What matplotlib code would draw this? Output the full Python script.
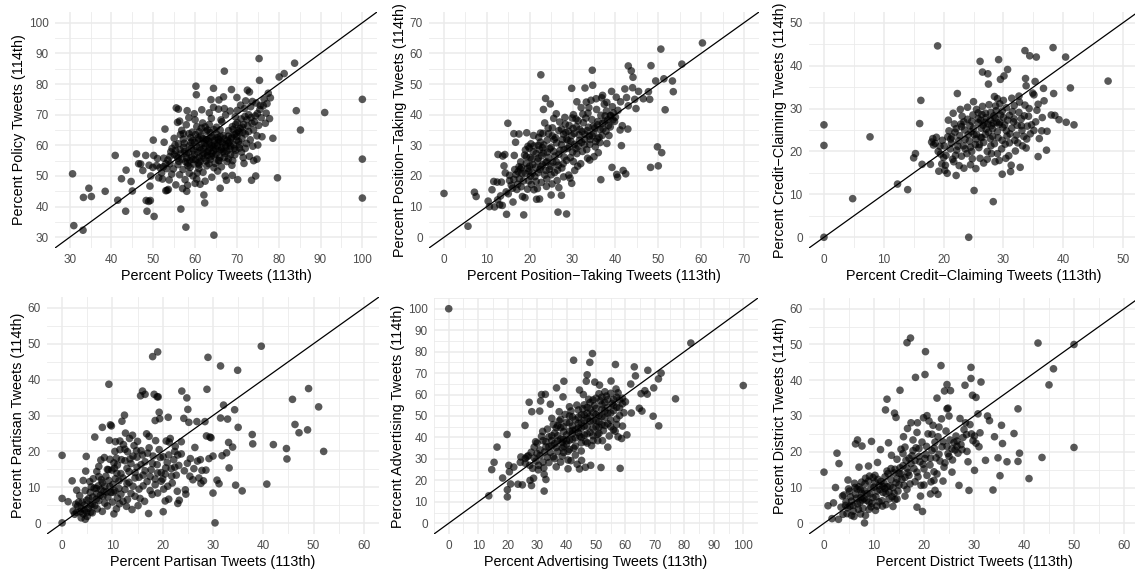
import numpy as np
import matplotlib
matplotlib.use("Agg")
import matplotlib.pyplot as plt
from matplotlib.ticker import MultipleLocator

plt.rcParams["font.family"] = ["Liberation Sans", "DejaVu Sans"]

# (113th, 114th) percentages per member, one list per tweet type
policy = [
    (30.7, 50.7), (31, 33.8), (33.2, 32.3), (33.3, 43), (34.6, 46), (35.2, 43.3), (38.5, 45),
    (40.9, 56.7), (41.5, 42.1), (42.4, 49.1), (43.4, 38.5), (43.5, 51.9), (44.7, 48.2), (45, 45.1),
    (46, 57.2), (46.5, 54), (47, 53.9), (47.5, 51.8), (48.2, 56.7), (48.3, 42), (48.5, 38.5),
    (48.9, 41.7), (49.2, 46.7), (49.3, 42), (49.4, 50), (50, 61.7), (50.2, 36.8), (50.1, 56.7),
    (51, 55.7), (51.3, 49.4), (52, 51), (52.4, 53), (52.5, 55.8), (52.6, 61), (52.8, 65.3),
    (53, 45.2), (53.3, 45.3), (53.6, 45.6), (53.8, 48.7), (54, 54), (54.5, 59), (55, 57),
    (55.5, 72.2), (55.8, 67.5), (56, 71.8), (56.3, 67.9), (56.6, 39.2), (56.5, 63.5), (57.2, 63.8),
    (57.5, 58), (57.8, 33.3), (58, 45), (58.2, 47), (58.5, 69), (59, 61), (59.5, 50), (60, 68.3),
    (60.2, 79.3), (60.3, 76.5), (60.4, 49), (60.5, 51), (61, 53.6), (61.2, 47.3), (61.6, 71.6),
    (62.1, 43.8), (62.3, 41.2), (62.5, 62), (63, 65), (63.4, 66.8), (63.8, 74.9), (64, 60),
    (64.4, 78.6), (64.4, 72.4), (64.5, 30.7), (64.5, 52.7), (65.3, 62.5), (65.6, 55), (65.7, 74.8),
    (66, 46), (66.2, 68.3), (66.8, 75.8), (67, 84.2), (67, 72), (67.2, 50), (67.5, 48.6), (68, 55.6),
    (68.5, 57), (68.7, 78.2), (68.9, 50.2), (69.4, 63.5), (70, 75.6), (70.1, 71.4), (70.2, 48.8),
    (70.5, 64.3), (71.5, 56), (71.8, 72), (72, 59), (72.5, 78), (72.8, 70), (73, 77.4), (73.5, 48.6),
    (73.7, 74.3), (74, 55), (74.5, 50), (74.8, 55.5), (75, 60.1), (75.3, 88.3), (75.4, 81.2),
    (75.5, 71.7), (76, 62.8), (76.5, 75.1), (77, 70.5), (77.5, 77), (77.8, 68.7), (78, 75.5),
    (78.6, 62.3), (79.7, 49.4), (80.1, 82.3), (81.3, 83.4), (83.8, 86.8), (84.2, 71.3), (85.2, 65),
    (91, 70.7), (100, 75), (100, 55.5), (100, 42.8),
    (53.5, 55.2), (54.2, 57.9), (54.8, 52.3), (55.2, 60.1), (55.6, 56.4), (56.1, 54.8), (56.4, 58.6),
    (56.9, 55.5), (57.1, 52.1), (57.4, 60.7), (57.9, 57.3), (58.2, 54.2), (58.6, 59.8), (58.9, 62.5),
    (59.2, 56.1), (59.6, 58.4), (59.9, 60.9), (60.2, 55.3), (60.6, 57.7), (60.9, 61.8), (61.1, 59.2),
    (61.4, 63.1), (61.7, 56.6), (62.0, 58.9), (62.3, 60.7), (62.6, 54.9), (62.9, 57.8), (63.2, 61.4),
    (63.5, 59.1), (63.8, 56.3), (64.1, 62.7), (64.4, 58.2), (64.7, 60.4), (65.0, 57.1), (65.3, 59.8),
    (65.6, 61.9), (65.9, 56.0), (66.2, 58.6), (66.5, 60.9), (66.8, 63.2), (67.1, 57.4), (67.4, 59.5),
    (67.7, 61.6), (68.0, 64.8), (68.3, 58.8), (68.6, 62.3), (68.9, 66.1), (69.2, 60.2), (69.5, 56.9),
    (69.8, 63.9), (70.1, 67.4), (70.4, 61.3), (70.8, 65.5), (71.2, 62.2), (71.6, 66.8), (72.0, 63.7),
    (72.4, 68.4), (72.8, 64.5), (73.2, 61.8), (73.6, 67.2), (74.0, 65.0), (74.4, 69.6), (74.8, 63.1),
    (75.2, 66.5), (56.3, 50.4), (57.6, 48.8), (58.8, 52.8), (59.7, 53.9), (60.9, 52.4), (61.9, 51.2),
    (62.8, 53.3), (63.6, 55.4), (64.8, 54.1), (66.3, 53.0), (67.6, 54.7), (68.8, 53.5), (69.7, 58.4),
    (70.6, 59.1), (71.1, 57.8), (72.3, 60.6), (73.8, 59.7), (55.0, 62.3), (56.8, 64.9), (57.9, 66.7),
    (59.3, 64.3), (60.4, 66.1), (61.8, 67.3), (62.7, 64.6), (63.9, 68.8), (65.1, 65.9), (66.4, 67.7),
    (67.3, 69.9), (68.4, 71.2), (69.6, 69.3), (70.9, 73.1), (72.1, 74.5), (73.3, 72.6), (74.6, 73.8),
    (76.3, 72.9), (77.2, 73.6), (75.8, 69.0), (76.8, 67.2), (73.0, 56.4), (71.7, 54.1), (69.0, 55.0),
    (65.4, 51.6), (64.0, 49.6), (62.4, 48.3), (60.0, 47.6), (58.6, 50.9), (57.0, 45.9), (55.4, 47.1),
    (54.4, 50.6), (53.2, 52.4), (52.2, 49.0), (51.6, 52.7), (50.8, 53.4), (49.9, 52.8), (49.0, 53.5),
    (55.9, 53.7), (58.0, 55.9), (61.2, 54.7), (63.0, 56.7), (66.0, 62.9), (67.9, 60.7), (69.9, 61.6),
    (71.4, 64.2), (61.5, 65.6), (63.4, 70.6), (65.6, 71.8), (59.8, 70.3), (58.1, 71.3),
    (55.3, 58.3), (55.9, 55.9), (56.6, 57.2), (57.3, 59.4), (57.7, 54.6), (58.4, 57.6), (58.7, 55.1),
    (59.1, 59.0), (59.4, 61.6), (59.9, 57.0), (60.3, 59.6), (60.7, 62.4), (61.0, 56.1), (61.3, 58.4),
    (61.6, 60.6), (61.9, 62.2), (62.2, 57.3), (62.5, 59.7), (62.8, 61.9), (63.1, 58.0), (63.4, 60.3),
    (63.7, 62.5), (64.0, 57.4), (64.3, 59.4), (64.6, 61.6), (64.9, 58.8), (65.2, 63.6), (65.5, 60.9),
    (65.8, 58.3), (66.1, 61.3), (66.4, 59.2), (66.7, 57.9), (67.0, 62.1), (67.3, 60.1), (67.6, 58.1),
    (67.9, 63.0), (68.2, 61.0), (68.5, 59.8), (68.8, 62.7), (69.1, 65.2), (69.4, 59.0), (69.7, 66.8),
    (70.0, 62.9), (70.3, 64.8), (70.7, 60.2), (71.0, 68.6), (71.3, 65.9), (71.9, 69.4), (72.6, 66.3),
    (73.4, 69.1), (74.2, 67.7), (74.9, 70.4), (75.6, 73.0), (58.3, 53.3), (59.5, 55.4), (60.8, 54.2),
    (62.1, 55.8), (63.3, 54.0), (64.6, 56.5), (65.8, 55.0), (67.0, 56.1), (56.0, 60.5), (57.2, 62.0),
    (58.5, 63.8), (60.1, 63.5), (61.0, 64.4), (62.4, 66.0), (63.6, 64.2), (64.5, 65.1), (66.0, 65.0),
    (54.0, 56.4), (53.0, 54.0),
]

position = [
    (0, 14.3), (5.6, 3.6), (7.1, 14.7), (7.5, 13.3), (10.3, 11.8), (10.6, 10), (11.2, 15.5),
    (11.6, 18.2), (12.4, 18), (12.6, 27), (13, 10.6), (13.4, 18), (13.6, 10.4), (13.7, 26.5),
    (14, 23.3), (14.2, 27), (14.3, 21), (14.6, 7.5), (14.9, 37.2), (15, 14.2), (15.3, 20.2),
    (15.7, 17), (16.1, 11.5), (16.3, 33.8), (16.4, 26.7), (16.7, 31), (17.3, 21.4), (17.5, 33.7),
    (17.8, 22.3), (18.3, 13.3), (18.6, 7.3), (18.9, 12.9), (19.0, 28.5), (19.3, 34.1), (19.6, 29.7),
    (20.3, 30.5), (20.6, 21), (21, 15.5), (21.6, 12.4), (22, 30), (22.3, 12.5), (22.6, 53), (22.5, 34),
    (23, 29.2), (23.2, 41.7), (23.5, 37.3), (23.7, 45.3), (24, 19), (24.4, 33.8), (24.8, 43.5),
    (25, 13.8), (25.4, 24.5), (25.7, 31.9), (26.2, 40.3), (26.6, 8.2), (26.8, 16.2), (27, 37.6),
    (27.4, 13.7), (27.8, 24), (28.6, 7.6), (28.9, 31.6), (29.4, 19.3), (29.8, 48.6), (29.8, 17.6),
    (30.2, 40), (31, 44.2), (31.2, 23.2), (32, 42.3), (32.9, 48.7), (33.2, 44.1), (33.6, 40.5),
    (34, 25.2), (34.6, 54.5), (34.7, 49.6), (35.5, 45.2), (36.6, 18.8), (37, 46.3), (38, 30.6),
    (38, 44), (39.1, 47.6), (39.2, 22.8), (39.4, 38.3), (40.2, 45.7), (40.3, 20.5), (40.5, 19.6),
    (41.1, 35), (41.4, 29.9), (41.6, 36.4), (41.8, 21.8), (42.2, 48.4), (42.4, 20.7), (42.6, 45.6),
    (42.9, 35.3), (43, 55.9), (43, 42.9), (43.7, 54.3), (44, 48.8), (44.1, 52.2), (44.5, 45),
    (44.8, 42), (45.4, 47.6), (46.5, 45.2), (47.7, 47.5), (48, 45), (48.2, 22.8), (48.3, 56),
    (49.4, 51), (49.8, 29.5), (50, 23.3), (50.6, 61.4), (50.8, 27.6), (51.3, 51.7), (51.6, 41.6),
    (53.3, 51), (53.5, 47.5), (55.5, 56.5), (60.3, 63.4),
    (16.8, 20.5), (17.6, 19.1), (18.1, 22.8), (18.5, 18.4), (19.2, 24.1), (19.8, 21.6), (20.1, 26.0),
    (20.7, 23.7), (21.2, 19.8), (21.5, 27.3), (21.9, 24.9), (22.4, 22.1), (22.8, 26.6), (23.3, 30.1),
    (23.7, 24.4), (24.1, 27.8), (24.6, 22.2), (25.0, 29.4), (25.3, 33.1), (25.9, 26.5), (26.3, 30.8),
    (26.7, 23.5), (27.1, 28.4), (27.6, 31.9), (28.0, 26.2), (28.4, 34.2), (28.8, 29.0), (29.2, 36.5),
    (29.6, 31.3), (30.0, 27.8), (30.4, 33.9), (30.8, 38.6), (31.3, 29.7), (31.7, 35.2), (32.1, 31.0),
    (32.5, 37.4), (32.9, 33.6), (33.3, 28.6), (33.7, 35.9), (34.1, 31.9), (34.5, 38.4), (34.9, 34.0),
    (35.3, 29.5), (35.8, 36.7), (36.2, 32.6), (36.6, 39.8), (37.1, 35.4), (37.5, 37.9), (37.9, 41.2),
    (38.4, 36.5), (38.8, 39.6), (39.3, 42.6), (39.8, 37.8), (40.6, 41.4), (41.2, 44.2), (36.0, 27.6),
    (35.0, 26.3), (33.5, 25.8), (31.9, 24.0), (30.5, 21.8), (29.1, 20.3), (27.9, 19.7), (26.4, 18.5),
    (25.2, 17.4), (23.9, 16.6), (22.7, 17.9), (21.8, 15.9), (20.4, 17.2), (19.5, 15.7), (24.3, 35.6),
    (25.6, 38.8), (27.4, 35.3), (28.2, 39.1), (29.9, 38.9), (30.9, 36.1), (32.4, 40.2), (33.8, 42.3),
    (35.6, 41.7), (37.4, 43.4), (36.8, 45.5), (34.3, 44.7), (20.9, 33.2), (19.9, 29.1), (18.8, 26.8),
    (17.9, 24.6), (22.1, 32.6), (23.1, 33.9), (26.0, 32.5), (28.6, 25.1), (30.2, 24.7), (31.5, 33.4),
    (32.8, 30.2), (34.8, 36.2), (36.4, 30.9), (37.8, 34.6), (38.9, 39.7), (40.0, 39.2), (25.8, 21.1),
    (24.0, 24.6), (22.0, 21.1), (20.5, 25.5), (19.0, 20.8), (17.2, 17.3), (16.0, 16.0), (15.3, 18.5),
    (14.5, 14.8), (13.2, 13.5), (12.5, 12.2), (11.8, 9.9),
    (19.5, 22.5), (20.2, 19.9), (20.8, 27.9), (21.4, 22.8), (22.0, 25.8), (22.6, 23.0), (23.2, 27.5),
    (23.8, 21.8), (24.4, 26.0), (25.0, 23.2), (25.6, 28.0), (26.2, 24.6), (26.8, 27.1), (27.4, 30.2),
    (28.0, 28.6), (28.6, 32.0), (29.2, 29.5), (29.8, 33.2), (30.4, 30.3), (31.0, 27.3), (31.6, 31.6),
    (32.2, 34.5), (32.8, 32.0), (33.4, 34.8), (34.0, 30.3), (34.6, 33.1), (35.2, 35.6), (35.8, 32.1),
    (36.4, 35.2), (37.0, 37.2), (37.6, 39.6), (38.2, 38.3), (38.8, 36.0), (39.5, 40.6), (31.3, 38.0),
    (30.1, 35.5), (29.0, 34.6), (27.9, 33.6), (26.8, 34.8), (25.3, 35.7), (24.1, 31.7), (23.0, 23.6),
    (22.3, 28.6), (21.0, 29.8), (19.2, 26.3), (18.2, 20.8), (17.5, 23.0), (16.5, 22.1), (16.3, 18.9),
    (17.0, 15.6), (18.0, 16.5), (19.8, 18.4), (21.5, 18.2), (23.5, 20.3), (25.0, 20.4), (26.5, 21.9),
    (27.5, 22.6), (29.5, 26.0), (30.8, 28.9), (32.3, 28.0), (33.9, 33.0), (35.4, 31.2), (36.9, 33.2),
    (38.5, 33.2), (35.9, 37.8), (33.1, 38.9), (28.3, 36.9), (24.7, 28.9), (22.5, 31.0), (20.0, 23.2),
]

credit = [
    (0, 26.2), (0, 21.4), (0, 0), (4.8, 9), (7.7, 23.4), (12.3, 12.4), (14, 11.1), (15, 18.5),
    (15.3, 19.5), (16, 26.5), (16.2, 31.9), (16.4, 17), (17.8, 17), (18, 22.2), (18.2, 23),
    (18.8, 23.3), (19, 44.6), (19.2, 15.4), (19.7, 17.1), (20.2, 15.6), (20.6, 14.9), (20.8, 27.3),
    (21.5, 18.2), (22.1, 14.4), (22.3, 33.5), (22.6, 16.7), (23.4, 16.1), (24.2, 0), (25.1, 10.9),
    (25.4, 16), (26.1, 41), (26.5, 38.5), (27.4, 38.1), (27.5, 35.7), (28.3, 8.3), (28.6, 17.6),
    (29.2, 41.4), (29.3, 17.9), (29.5, 36.8), (29.8, 14.7), (30.1, 37.6), (30.7, 39.1), (31.2, 15.3),
    (31.3, 16.8), (32.8, 16.3), (33.6, 43.5), (33.7, 37), (34.4, 42.3), (35.5, 42), (35.3, 36.3),
    (35.8, 18.8), (36.4, 24.8), (36.7, 34.7), (36.8, 31.8), (37.2, 20.3), (37.3, 24.7), (38, 28.5),
    (38.3, 44.2), (38.4, 33.5), (38.6, 28.4), (39.3, 27.4), (40.4, 42), (40.5, 26.8), (41.2, 34.8),
    (41.8, 26.2), (47.5, 36.4),
    (18.3, 21.5), (19.1, 20.0), (19.8, 22.6), (20.4, 19.1), (20.9, 24.8), (21.3, 21.9), (21.8, 26.4),
    (22.2, 20.3), (22.7, 23.7), (23.1, 28.2), (23.5, 25.0), (23.9, 19.5), (24.3, 22.4), (24.7, 27.0),
    (25.1, 23.9), (25.5, 29.8), (25.9, 20.9), (26.3, 25.4), (26.7, 22.1), (27.1, 27.9), (27.5, 24.5),
    (27.9, 21.3), (28.3, 26.6), (28.7, 30.6), (29.1, 23.2), (29.5, 28.5), (29.9, 25.6), (30.3, 21.7),
    (30.7, 27.3), (31.1, 24.1), (31.5, 29.3), (31.9, 22.6), (32.3, 26.1), (32.7, 31.5), (33.1, 24.9),
    (33.5, 28.3), (33.9, 22.9), (34.3, 30.0), (34.7, 26.2), (35.1, 33.2), (35.6, 29.6), (36.0, 23.0),
    (28.5, 32.8), (29.0, 32.3), (28.8, 29.5), (27.8, 27.4), (26.9, 26.8), (25.8, 26.7), (24.6, 24.6),
    (23.6, 22.8), (22.4, 21.2), (21.1, 20.6), (20.1, 21.3), (25.3, 21.6), (26.1, 18.4), (27.3, 18.2),
    (28.0, 19.5), (29.7, 20.6), (30.9, 19.0), (32.0, 20.1), (33.2, 21.3), (34.5, 24.1), (35.4, 26.9),
    (36.5, 27.9), (24.0, 30.3), (25.0, 31.6), (26.5, 30.5), (27.6, 30.9), (30.0, 31.9), (31.4, 32.4),
    (32.6, 32.9), (33.8, 35.3), (34.9, 33.6), (21.6, 28.9), (22.9, 26.4), (24.4, 26.0), (26.4, 23.2),
    (28.2, 23.5), (29.3, 26.3), (30.5, 24.8), (31.7, 26.9), (33.0, 27.6), (34.0, 25.9), (23.0, 18.9),
    (24.8, 18.3), (21.4, 23.4), (19.5, 19.4), (18.6, 21.9), (20.3, 16.8),
    (21.2, 22.9), (21.9, 24.5), (22.5, 22.5), (23.0, 25.8), (23.6, 20.6), (24.1, 23.9), (24.5, 21.0),
    (25.0, 25.4), (25.4, 22.9), (25.8, 27.6), (26.2, 23.3), (26.6, 26.1), (27.0, 24.0), (27.4, 26.4),
    (27.8, 23.0), (28.2, 25.3), (28.6, 27.8), (29.0, 24.6), (29.4, 26.8), (29.8, 29.4), (30.2, 26.2),
    (30.6, 23.6), (31.0, 28.4), (31.4, 25.4), (31.8, 27.6), (32.2, 23.8), (32.6, 29.1), (33.0, 26.0),
    (33.4, 23.5), (22.0, 19.1), (23.3, 21.3), (24.7, 20.0), (26.0, 21.6), (27.3, 20.0), (28.5, 21.8),
    (29.8, 22.6), (27.1, 25.2), (28.0, 26.0), (28.9, 26.8), (26.4, 28.6), (25.5, 24.0), (24.0, 27.5),
    (22.8, 29.8), (25.8, 29.0), (27.9, 29.1), (29.4, 31.1), (30.5, 30.2), (31.8, 30.7), (33.6, 30.8),
    (34.2, 28.2), (35.1, 24.9), (35.8, 31.0), (32.4, 22.0), (31.0, 22.0), (30.0, 27.9), (28.4, 28.3),
    (27.0, 28.9), (26.2, 27.3), (24.9, 28.5), (23.4, 26.9), (22.1, 25.3), (20.7, 23.4), (19.4, 21.2),
    (20.0, 18.6), (21.7, 17.6), (24.5, 16.9), (26.7, 17.3), (29.0, 19.5), (30.4, 18.4), (33.8, 20.8),
]

partisan = [
    (0, 18.9), (0, 6.9), (0, 0.1), (1.2, 6), (2, 11.8), (2.5, 2.5), (2.9, 9.2), (4.6, 1.1),
    (4.8, 18.6), (4.7, 14.5), (5.7, 3.1), (6.5, 24), (6.8, 9.7), (7.3, 15.8), (7.7, 17.6), (8, 26.7),
    (9.3, 38.7), (9.4, 23.1), (9.6, 27.4), (9.8, 27.1), (10.3, 2.6), (10.6, 22.7), (10.8, 4),
    (11.5, 20.5), (11.9, 28.4), (12.4, 30.1), (12.6, 25.1), (13.4, 23.6), (14, 24.5), (15.1, 4.9),
    (15.6, 35.5), (16, 36.8), (16.5, 35.9), (16.4, 6.1), (17.2, 2.7), (17.3, 24.2), (17.9, 8),
    (18, 46.4), (18.3, 35.9), (18.5, 28.6), (18.9, 35.2), (19, 47.7), (19.1, 35.2), (19.3, 30.9),
    (19.4, 29.1), (19.7, 11.7), (20.1, 3.2), (20.2, 9.5), (20.5, 6.2), (21.1, 29.5), (21.2, 6.7),
    (21.5, 23.6), (21.9, 11.2), (22.4, 20), (23, 5.5), (23.3, 6.4), (23.8, 36.8), (23.7, 22.7),
    (24.2, 29.2), (24.5, 9.3), (24.6, 8.1), (24.8, 34.9), (25, 31.7), (25.2, 28.1), (26.4, 21.1),
    (26.8, 28.3), (27.2, 12.6), (27.5, 17.7), (27.8, 14.7), (28.1, 11.8), (28.4, 28.3), (28.8, 37.3),
    (29, 46.2), (29.4, 24), (30, 8.4), (30.4, 0.1), (30.8, 12), (31.2, 11), (31.5, 43.8), (31.5, 29.3),
    (32.1, 32.9), (32.9, 29), (33.1, 22.5), (33.2, 15.4), (33.9, 21.2), (34.3, 31.6), (34.5, 10.6),
    (34.9, 42.6), (35, 26.7), (35.8, 9), (37.8, 24.7), (37.9, 22.1), (39.6, 49.3), (40.7, 10.9),
    (42, 21.9), (44.6, 20.8), (44.7, 17.9), (45.8, 34.5), (46.3, 27.5), (47.1, 25.2), (48.8, 26),
    (49, 37.5), (51, 32.4), (52, 20), (29.2, 18), (30, 18.7), (31.8, 18.8), (32.7, 19.6),
    (29.6, 23.8), (28.7, 24.3),
    (3.1, 4.8), (3.6, 3.2), (4.0, 5.9), (4.4, 3.7), (4.9, 6.4), (5.2, 4.1), (5.6, 8.6), (6.0, 5.3),
    (6.4, 9.8), (6.8, 6.7), (7.2, 10.4), (7.6, 7.8), (8.0, 11.3), (8.3, 8.9), (8.7, 13.1), (9.1, 7.3),
    (9.5, 10.2), (9.9, 14.8), (10.2, 8.6), (10.6, 12.4), (11.0, 16.2), (11.3, 9.7), (11.7, 13.8),
    (12.1, 6.1), (12.5, 17.4), (12.9, 11.0), (13.3, 14.4), (13.7, 8.3), (14.1, 18.7), (14.5, 12.6),
    (14.9, 15.6), (15.3, 9.5), (15.7, 20.2), (16.1, 13.4), (16.5, 17.1), (16.9, 11.6), (17.3, 21.0),
    (17.7, 14.9), (18.1, 18.7), (18.5, 12.3), (18.9, 16.3), (19.3, 20.5), (19.7, 14.1), (20.1, 18.5),
    (20.5, 13.7), (20.9, 16.9), (21.3, 22.6), (21.7, 15.2), (22.2, 17.7), (22.7, 13.4), (23.2, 16.1),
    (23.7, 19.3), (24.3, 14.6), (24.9, 16.7), (25.5, 18.0), (26.2, 15.2), (26.9, 17.3), (5.8, 10.1),
    (7.0, 4.0), (8.5, 5.6), (10.0, 5.9), (11.4, 5.4), (12.8, 4.7), (13.9, 3.8), (9.0, 15.0),
    (10.4, 15.3), (11.8, 17.7), (13.0, 19.9), (14.3, 21.6), (15.0, 22.8), (12.2, 21.9), (10.8, 18.1),
    (8.4, 18.3), (7.3, 13.0), (6.2, 12.4), (4.6, 9.1), (3.5, 7.7), (2.7, 5.3), (2.2, 3.4), (16.8, 24.9),
    (18.6, 23.0), (20.7, 22.9), (22.5, 21.4), (17.5, 9.1), (19.0, 8.4), (21.0, 10.3), (22.9, 8.9),
    (25.4, 13.1), (27.6, 11.1), (28.6, 14.8), (26.0, 12.1),
    (2.9, 3.0), (3.3, 5.9), (3.8, 4.1), (4.2, 2.6), (4.5, 5.1), (4.9, 3.0), (5.3, 6.9), (5.7, 5.0),
    (6.1, 7.3), (6.5, 4.9), (6.9, 8.2), (7.3, 6.3), (7.7, 9.4), (8.1, 7.5), (8.5, 10.3), (8.9, 8.7),
    (9.3, 11.9), (9.7, 8.6), (10.1, 10.8), (10.5, 9.0), (10.9, 13.9), (11.3, 11.8), (11.7, 8.1),
    (12.1, 12.6), (12.5, 9.4), (12.9, 15.3), (13.3, 11.4), (13.7, 16.6), (14.1, 10.3), (14.5, 14.1),
    (14.9, 18.4), (15.3, 12.8), (15.7, 16.3), (16.1, 10.4), (16.5, 14.6), (17.0, 19.5), (17.5, 13.0),
    (18.0, 16.6), (18.5, 10.7), (19.0, 14.0), (19.5, 18.3), (20.0, 12.3), (20.6, 15.4), (21.2, 19.0),
    (21.8, 13.1), (22.4, 15.6), (23.0, 19.0), (9.5, 17.8), (10.5, 20.0), (11.5, 22.9), (12.5, 20.6),
    (13.5, 17.9), (14.8, 20.2), (16.0, 19.0), (8.0, 3.3), (9.0, 4.8), (11.0, 7.0), (13.0, 6.6),
    (14.5, 7.5), (15.5, 6.9), (6.0, 2.9), (5.0, 1.9), (3.8, 1.5), (7.8, 12.1), (9.2, 14.9),
    (10.3, 16.8), (6.9, 14.4), (5.5, 11.6), (4.2, 11.9),
]

advertising = [
    (0, 100), (13.6, 12.8), (14.6, 25), (15.4, 28.4), (16.4, 35.5), (18.3, 21.1), (19.8, 41.4),
    (19.9, 15.6), (19.9, 12.3), (20.4, 27), (20.6, 24), (21, 18.3), (22.1, 26.2), (23.5, 18.2),
    (24.3, 28.4), (25, 17.9), (25.9, 45.6), (26.6, 31), (27.3, 56.4), (27.6, 20), (28.1, 17.6),
    (28.2, 52), (28.8, 21), (29.6, 29), (30.4, 24.9), (30.9, 52.3), (31.2, 57), (31.5, 60),
    (31.9, 42.8), (32.3, 25.8), (32.4, 22.8), (32.4, 15), (32.8, 60.1), (33, 20.4), (34.5, 55.5),
    (35, 48.9), (36.5, 26.3), (36.6, 63.1), (37.5, 52), (38, 28.5), (38.8, 58.9), (39.1, 66.2),
    (40.5, 25.4), (41.5, 29.2), (42.4, 76), (43.6, 27.5), (44.4, 25.3), (44.4, 62.1), (45.1, 29.3),
    (45.7, 60), (46.4, 26.1), (46.7, 66.2), (47, 69.2), (47.9, 75), (48.2, 27), (48.8, 79.1),
    (49.6, 65.8), (50.6, 38.5), (51.2, 64.4), (51.7, 26), (52.2, 38.5), (54, 35.5), (55.1, 66.3),
    (55.9, 43.5), (56.6, 74), (56.8, 62.6), (58.2, 25.6), (58.7, 39.5), (59, 45.3), (60.5, 41.2),
    (61.8, 64.9), (62, 51.4), (63, 72.9), (63.4, 68.7), (64.7, 53.6), (65.3, 60.4), (65.6, 52.3),
    (66.6, 61.8), (67.6, 71.3), (67.4, 60.2), (69.4, 49.9), (69.6, 63.1), (71.2, 67.3), (71.3, 45.4),
    (72.1, 70), (77, 58), (82.2, 84), (100, 64.2),
    (28.0, 33.1), (29.0, 30.4), (30.0, 37.4), (31.0, 34.2), (32.0, 38.5), (33.0, 35.6), (34.0, 40.3),
    (35.0, 36.2), (36.0, 42.1), (37.0, 38.4), (38.0, 44.6), (39.0, 35.9), (40.0, 41.2), (41.0, 46.8),
    (42.0, 39.1), (43.0, 43.6), (44.0, 49.4), (45.0, 37.5), (46.0, 45.2), (47.0, 51.3), (48.0, 42.4),
    (49.0, 47.6), (50.0, 53.5), (51.0, 44.8), (52.0, 49.7), (53.0, 56.2), (54.0, 46.4), (55.0, 51.4),
    (56.0, 57.7), (57.0, 48.6), (58.0, 53.8), (59.0, 58.3), (34.5, 33.0), (36.5, 35.3), (38.5, 37.8),
    (40.5, 33.5), (42.5, 35.0), (44.5, 40.6), (46.5, 38.1), (48.5, 36.2), (50.5, 41.4), (52.5, 43.2),
    (41.5, 52.3), (43.5, 55.1), (45.5, 53.4), (47.5, 57.8), (49.5, 54.9), (51.5, 57.1), (53.5, 59.3),
    (55.5, 55.9), (57.5, 60.8), (37.5, 47.7), (39.5, 50.7), (41.0, 54.3), (43.0, 48.2), (45.0, 46.8),
    (47.0, 48.9), (49.0, 51.6), (51.0, 50.2), (53.0, 52.4), (54.5, 40.7), (56.5, 42.9), (57.5, 40.3),
    (59.5, 51.5), (60.0, 56.6), (35.5, 46.0), (33.5, 43.9), (31.5, 40.5), (29.5, 38.0), (27.5, 27.0),
    (26.0, 30.2), (24.5, 30.9), (39.0, 42.7), (41.0, 38.7), (43.0, 31.8), (45.0, 33.7), (47.0, 41.7),
    (49.0, 44.2), (50.0, 47.8), (42.0, 45.3), (44.0, 44.4), (46.0, 50.6), (48.0, 53.2), (52.0, 55.3),
    (55.0, 60.6), (57.0, 58.8), (36.0, 30.1), (38.5, 31.3), (40.5, 29.5), (30.5, 27.0), (32.0, 28.5),
    (33.5, 30.8), (28.5, 25.6),
    (34.0, 35.7), (35.0, 38.6), (36.0, 37.2), (37.0, 40.8), (38.0, 39.3), (39.0, 39.1), (40.0, 36.9),
    (41.0, 42.9), (42.0, 41.8), (43.0, 39.8), (44.0, 42.2), (45.0, 44.3), (46.0, 41.1), (47.0, 45.3),
    (48.0, 47.5), (49.0, 40.8), (50.0, 44.9), (51.0, 47.3), (52.0, 46.1), (53.0, 49.4), (54.0, 51.2),
    (55.0, 48.0), (56.0, 52.5), (57.0, 54.1), (58.0, 50.2), (59.0, 55.7), (36.5, 44.5), (38.0, 48.5),
    (40.0, 47.0), (42.0, 49.6), (44.0, 52.8), (46.0, 55.2), (48.0, 56.3), (50.0, 58.3), (52.0, 58.8),
    (54.0, 57.6), (56.0, 55.0), (58.0, 57.4), (39.0, 33.0), (41.0, 34.4), (43.0, 36.0), (45.0, 40.0),
    (47.0, 37.4), (49.0, 38.6), (51.0, 41.9), (53.0, 45.6), (55.0, 45.0), (57.0, 46.0), (31.0, 31.5),
    (32.5, 33.2), (34.0, 28.3), (35.5, 31.0), (37.0, 33.4), (38.5, 35.1), (40.0, 38.5), (42.0, 43.3),
    (44.0, 46.6), (46.0, 47.9), (48.0, 49.8), (50.0, 50.7), (52.0, 53.1), (54.0, 54.0), (30.0, 32.5),
    (29.0, 35.5), (27.0, 31.5), (26.0, 28.0), (33.0, 38.0), (35.0, 40.8), (37.0, 45.5), (39.0, 45.0),
    (41.0, 50.0), (45.0, 50.5), (47.0, 54.0), (49.0, 57.5), (51.0, 60.4), (53.0, 61.3),
]

district = [
    (0, 14.3), (0.8, 4.9), (1.6, 1.3), (1.9, 5.7), (2.3, 10), (2.6, 19.6), (2.9, 1.1), (3, 16.7),
    (3.7, 7.6), (4.3, 5), (4.6, 2.7), (4.8, 12.1), (5.5, 2.2), (6.1, 11.2), (6.3, 22.2), (6.7, 23.3),
    (7, 15.7), (7.3, 2.6), (7.6, 21.6), (8.1, 0.1), (8.3, 2.2), (8.9, 16), (9.4, 4.6), (9.5, 22.9),
    (10.7, 17), (11.3, 20.6), (11.7, 4.8), (12.3, 31.7), (12.6, 34.7), (12.9, 22.5), (13.5, 19),
    (13.8, 4.7), (14.1, 30.8), (14.4, 29.6), (14.6, 6.8), (15.2, 37.2), (15.4, 20.7), (15.9, 24.2),
    (16.2, 7.6), (16.6, 50.5), (16.7, 26.5), (17.3, 51.8), (17.4, 28.1), (18.3, 40.8), (18.6, 4.5),
    (18.7, 28.1), (19.3, 7.6), (19.7, 3.3), (19.9, 29.5), (20.2, 41.6), (20.3, 48), (20.6, 30.1),
    (21.3, 8.2), (21.6, 24.9), (21.8, 27.4), (22.2, 9.2), (22.6, 35), (22.8, 8.1), (23.4, 44.1),
    (23.5, 29.2), (23.8, 11.8), (24.1, 37), (24.6, 38.8), (24.8, 32.2), (25, 30), (25.3, 37.1),
    (25.6, 14.3), (26, 22.6), (26.6, 21.5), (27, 10.6), (27.2, 29.3), (28.2, 38.6), (28.5, 24.8),
    (29, 9.2), (29.4, 43.6), (29.4, 40.5), (29.7, 35.8), (30.1, 14.8), (30.4, 35.2), (30.8, 30.6),
    (31.2, 25.3), (31.4, 39.5), (32.3, 17.6), (32.7, 30), (33.1, 28.7), (33.8, 9.3), (34.1, 24.2),
    (34.8, 18.3), (35.2, 13.3), (35.5, 27.4), (35.7, 22.3), (36.6, 17.2), (38, 25.1), (38.8, 32),
    (38.8, 17.3), (39.1, 19.6), (41, 12.5), (42.8, 50.4), (43.6, 18.4), (45, 38.7), (45.9, 43.2),
    (50, 50), (50, 21.2),
    (4.0, 7.9), (4.7, 4.3), (5.1, 9.0), (5.5, 6.2), (5.9, 3.4), (6.3, 8.1), (6.7, 5.4), (7.0, 10.2),
    (7.4, 7.2), (7.8, 4.2), (8.1, 9.1), (8.5, 6.4), (8.9, 11.8), (9.2, 8.2), (9.6, 5.6), (10.0, 10.1),
    (10.4, 7.4), (10.8, 12.3), (11.2, 9.4), (11.6, 6.3), (12.0, 11.2), (12.4, 8.3), (12.8, 13.9),
    (13.2, 10.4), (13.6, 7.4), (14.0, 14.1), (14.4, 11.3), (14.8, 9.0), (15.2, 15.5), (15.6, 12.3),
    (16.0, 10.6), (16.4, 17.6), (16.8, 14.2), (17.2, 11.0), (17.6, 18.9), (18.0, 15.3), (18.4, 21.1),
    (18.8, 13.0), (19.2, 17.2), (19.6, 22.7), (20.0, 15.2), (20.4, 19.2), (20.8, 25.0), (21.2, 16.3),
    (21.6, 20.3), (22.0, 14.4), (22.4, 18.3), (22.8, 24.2), (23.2, 17.4), (23.6, 21.4), (24.0, 15.7),
    (24.4, 25.8), (24.8, 19.5), (25.2, 23.3), (25.7, 17.7), (26.2, 20.5), (26.8, 19.6), (27.4, 22.0),
    (28.0, 26.2), (28.6, 20.1), (29.2, 27.6), (29.8, 23.1), (30.4, 22.4), (31.0, 21.4), (8.0, 6.9),
    (7.6, 8.4), (7.2, 5.9), (6.6, 9.6), (9.8, 12.8), (11.0, 10.5), (11.8, 10.3), (12.2, 9.7),
    (13.0, 6.8), (14.2, 6.6), (10.6, 4.8), (9.0, 3.9), (6.0, 1.9), (5.2, 4.8), (3.4, 4.5), (3.8, 2.5),
    (14.6, 17.9), (15.8, 19.5), (16.2, 21.3), (17.0, 18.2), (17.8, 23.3), (18.6, 25.4), (19.4, 10.6),
    (20.6, 13.4), (21.4, 11.6), (22.6, 13.8), (24.2, 16.9), (25.0, 18.7), (26.4, 24.4), (27.8, 24.0),
    (28.8, 17.2), (23.0, 26.9), (21.0, 28.6), (19.0, 20.9), (20.2, 18.1), (22.2, 22.7), (24.6, 32.0),
    (12.6, 14.6), (13.4, 15.3), (10.2, 13.4), (15.0, 14.0),
    (4.4, 6.0), (4.9, 9.6), (5.3, 7.4), (5.8, 5.0), (6.2, 10.0), (6.5, 7.0), (6.9, 3.9), (7.3, 9.4),
    (7.7, 6.5), (8.2, 11.1), (8.6, 8.3), (9.0, 5.9), (9.4, 9.9), (9.8, 7.2), (10.2, 11.5), (10.6, 9.0),
    (11.0, 6.0), (11.4, 11.7), (11.8, 8.6), (12.2, 13.0), (12.6, 10.2), (13.0, 8.7), (13.4, 12.2),
    (13.8, 10.0), (14.2, 15.1), (14.6, 12.4), (15.0, 10.7), (15.4, 13.8), (15.8, 16.1), (16.2, 12.8),
    (16.6, 15.4), (17.0, 13.4), (17.4, 16.7), (17.8, 20.3), (18.2, 17.5), (18.6, 14.3), (19.0, 18.7),
    (19.8, 16.5), (20.5, 21.5), (21.3, 18.2), (22.1, 20.9), (23.0, 19.3), (23.8, 22.8), (24.6, 21.5),
    (25.6, 20.8), (26.6, 23.0), (27.6, 20.6), (28.3, 28.1), (29.5, 25.0), (30.1, 24.4), (9.1, 13.2),
    (8.3, 12.6), (7.5, 11.5), (10.3, 3.6), (12.4, 5.2), (14.0, 8.4), (16.6, 9.5), (18.2, 11.6),
    (20.0, 10.7), (22.0, 12.0),
]

# name, data, axis range, tick step, axes box in pixels (left, top, right, bottom)
panels = [
    ("Policy", policy, (30, 100), 10, (55, 12, 377, 248)),
    ("Position\u2212Taking", position, (0, 70), 10, (429, 12, 759, 248)),
    ("Credit\u2212Claiming", credit, (0, 50), 10, (809, 12, 1138, 248)),
    ("Partisan", partisan, (0, 60), 10, (47, 297, 379, 534)),
    ("Advertising", advertising, (0, 100), 10, (434, 298, 758, 534)),
    ("District", district, (0, 60), 10, (809, 298, 1139, 534)),
]

W, H = 1135, 574
fig = plt.figure(figsize=(W / 100, H / 100), dpi=100)

for name, data, (lo, hi), step, (l, t, r, b) in panels:
    ax = fig.add_axes([l / W, 1 - b / H, (r - l) / W, (b - t) / H])
    pts = np.array(data)
    pad = 0.05 * (hi - lo)
    ax.set_xlim(lo - pad, hi + pad)
    ax.set_ylim(lo - pad, hi + pad)

    ax.xaxis.set_major_locator(MultipleLocator(step))
    ax.yaxis.set_major_locator(MultipleLocator(step))
    ax.xaxis.set_minor_locator(MultipleLocator(step / 2))
    ax.yaxis.set_minor_locator(MultipleLocator(step / 2))
    ax.grid(which="major", color="#EBEBEB", lw=1.1, zorder=0)
    ax.grid(which="minor", color="#EBEBEB", lw=0.6, zorder=0)
    ax.set_axisbelow(True)
    for s in ax.spines.values():
        s.set_visible(False)
    ax.tick_params(which="both", length=0, labelsize=8.5, labelcolor="#4D4D4D")
    ax.tick_params(axis="x", pad=4.5)
    ax.tick_params(axis="y", pad=4.5)

    ax.scatter(pts[:, 0], pts[:, 1], s=30, color="black", alpha=0.65,
               edgecolors="none", zorder=2)
    ax.axline((0, 0), slope=1, color="black", lw=0.9, zorder=3)

    ax.set_xlabel(f"Percent {name} Tweets (113th)", fontsize=10.4, labelpad=2)
    ax.set_ylabel(f"Percent {name} Tweets (114th)", fontsize=10.4, labelpad=2)

fig.savefig("out.png", dpi=100)
